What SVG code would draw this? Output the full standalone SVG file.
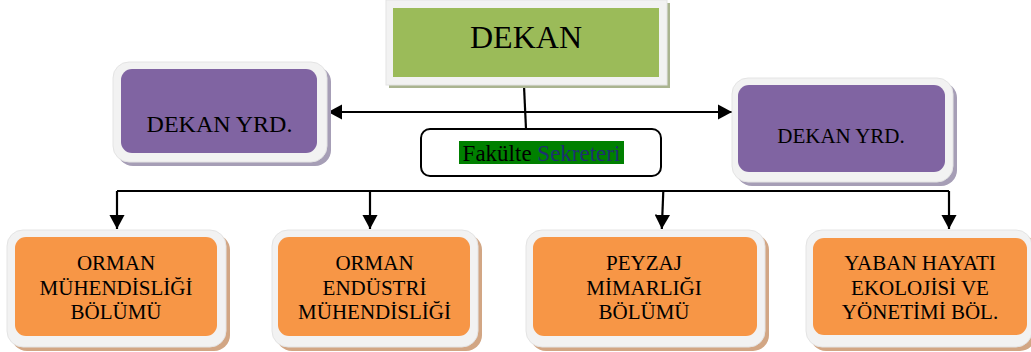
<svg xmlns="http://www.w3.org/2000/svg" width="1031" height="352" viewBox="0 0 1031 352">
<defs>
<style>
.t{font-family:"Liberation Serif","Times New Roman",serif;fill:#000;text-anchor:middle}
.frame{fill:#F2F2F2;stroke:#E4E4E4;stroke-width:1}
.pur{fill:#8064A2}
.org{fill:#F79646}
.sp{fill:#A69EB6}
.so{fill:#D2A684}
.ln{stroke:#000;stroke-width:2.2;fill:none}
</style>
<marker id="ah" viewBox="0 0 10 10" refX="10" refY="5" markerWidth="6.5" markerHeight="7" markerUnits="strokeWidth" orient="auto-start-reverse" preserveAspectRatio="none">
<path d="M0,0 L10,5 L0,10 Z" fill="#000"/>
</marker>
</defs>
<rect width="1031" height="352" fill="#fff"/>

<g id="connectors">
<path class="ln" d="M524,86 L526,129"/>
<path class="ln" d="M328,112 L732,112" marker-start="url(#ah)" marker-end="url(#ah)"/>
<path class="ln" d="M117,191 L949,191"/>
<path class="ln" d="M117,191 L117,229" marker-end="url(#ah)"/>
<path class="ln" d="M370,191 L370,229" marker-end="url(#ah)"/>
<path class="ln" d="M663.3,191 L661.8,229" marker-end="url(#ah)"/>
<path class="ln" d="M949,191 L949,229" marker-end="url(#ah)"/>
</g>

<g id="dekan">
<rect x="389" y="3" width="281" height="85" fill="#AAB490"/>
<rect x="386" y="0" width="281" height="85" class="frame"/>
<rect x="393" y="8" width="266" height="69" fill="#9BBB59"/>
<text class="t" x="526" y="48" font-size="32">DEKAN</text>
</g>

<g id="fakulte">
<rect x="421" y="129" width="240" height="47" rx="9" fill="#fff" stroke="#000" stroke-width="2"/>
<rect x="459" y="141" width="165" height="23" fill="#008000"/>
<text class="t" x="541.5" y="161" font-size="23">Fakülte <tspan fill="#1F3070">Sekreteri</tspan></text>
</g>

<g id="yrd-left">
<rect x="117" y="66" width="214" height="100" rx="16" class="sp"/>
<rect x="113" y="62" width="214" height="100" rx="16" class="frame"/>
<rect x="121" y="69" width="196" height="84" rx="11" class="pur"/>
<text class="t" x="219.5" y="132" font-size="24">DEKAN YRD.</text>
</g>

<g id="yrd-right">
<rect x="736" y="82" width="221" height="104" rx="16" class="sp"/>
<rect x="732" y="78" width="221" height="104" rx="16" class="frame"/>
<rect x="738" y="85" width="207" height="87" rx="11" class="pur"/>
<text class="t" x="841" y="143" font-size="21">DEKAN YRD.</text>
</g>

<g id="b1">
<rect x="11" y="234" width="219" height="117" rx="16" class="so"/>
<rect x="7" y="230" width="219" height="117" rx="16" class="frame"/>
<rect x="15" y="237" width="202" height="99" rx="11" class="org"/>
<text class="t" font-size="21"><tspan x="116" y="270">ORMAN</tspan><tspan x="116" y="295">MÜHENDİSLİĞİ</tspan><tspan x="116" y="319">BÖLÜMÜ</tspan></text>
</g>

<g id="b2">
<rect x="276" y="234" width="206" height="117" rx="16" class="so"/>
<rect x="272" y="230" width="206" height="117" rx="16" class="frame"/>
<rect x="278" y="237" width="192" height="99" rx="11" class="org"/>
<text class="t" font-size="21"><tspan x="374.5" y="270">ORMAN</tspan><tspan x="374.5" y="295">ENDÜSTRİ</tspan><tspan x="374.5" y="319">MÜHENDİSLİĞİ</tspan></text>
</g>

<g id="b3">
<rect x="530" y="234" width="239" height="117" rx="16" class="so"/>
<rect x="526" y="230" width="239" height="117" rx="16" class="frame"/>
<rect x="533" y="237" width="224" height="99" rx="11" class="org"/>
<text class="t" font-size="21"><tspan x="644" y="270">PEYZAJ</tspan><tspan x="644" y="295">MİMARLIĞI</tspan><tspan x="644" y="319">BÖLÜMÜ</tspan></text>
</g>

<g id="b4">
<rect x="810" y="234" width="226" height="117" rx="16" class="so"/>
<rect x="806" y="230" width="226" height="117" rx="16" class="frame"/>
<rect x="813" y="238" width="214" height="97" rx="11" class="org"/>
<text class="t" font-size="21"><tspan x="920" y="270">YABAN HAYATI</tspan><tspan x="920" y="295">EKOLOJİSİ VE</tspan><tspan x="920" y="319">YÖNETİMİ BÖL.</tspan></text>
</g>
</svg>
